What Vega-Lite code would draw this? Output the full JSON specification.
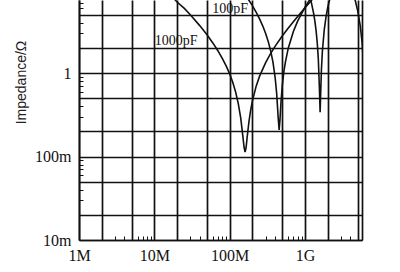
{
  "$schema": "https://vega.github.io/schema/vega-lite/v6.json",
  "width": 283,
  "height": 240,
  "autosize": "none",
  "padding": {"left": 79, "top": 0, "right": 38, "bottom": 32},
  "background": "white",
  "config": {"view": {"stroke": null}},
  "datasets": {
    "curves": [
      {"curve": "1000pF", "f": 15000000, "z": 9.5},
      {"curve": "1000pF", "f": 20000000, "z": 7.1},
      {"curve": "1000pF", "f": 25000000, "z": 5.95},
      {"curve": "1000pF", "f": 30000000, "z": 5.0},
      {"curve": "1000pF", "f": 40000000, "z": 3.7},
      {"curve": "1000pF", "f": 50000000, "z": 2.87},
      {"curve": "1000pF", "f": 60000000, "z": 2.28},
      {"curve": "1000pF", "f": 70000000, "z": 1.84},
      {"curve": "1000pF", "f": 80000000, "z": 1.49},
      {"curve": "1000pF", "f": 90000000, "z": 1.21},
      {"curve": "1000pF", "f": 100000000, "z": 0.977},
      {"curve": "1000pF", "f": 110000000, "z": 0.771},
      {"curve": "1000pF", "f": 120000000, "z": 0.591},
      {"curve": "1000pF", "f": 130000000, "z": 0.431},
      {"curve": "1000pF", "f": 140000000, "z": 0.29},
      {"curve": "1000pF", "f": 150000000, "z": 0.171},
      {"curve": "1000pF", "f": 155000000, "z": 0.13},
      {"curve": "1000pF", "f": 160000000, "z": 0.113},
      {"curve": "1000pF", "f": 165000000, "z": 0.128},
      {"curve": "1000pF", "f": 170000000, "z": 0.166},
      {"curve": "1000pF", "f": 180000000, "z": 0.261},
      {"curve": "1000pF", "f": 190000000, "z": 0.361},
      {"curve": "1000pF", "f": 200000000, "z": 0.461},
      {"curve": "1000pF", "f": 225000000, "z": 0.701},
      {"curve": "1000pF", "f": 250000000, "z": 0.924},
      {"curve": "1000pF", "f": 300000000, "z": 1.334},
      {"curve": "1000pF", "f": 350000000, "z": 1.721},
      {"curve": "1000pF", "f": 400000000, "z": 2.089},
      {"curve": "1000pF", "f": 500000000, "z": 2.791},
      {"curve": "1000pF", "f": 600000000, "z": 3.465},
      {"curve": "1000pF", "f": 700000000, "z": 4.125},
      {"curve": "1000pF", "f": 850000000, "z": 5.098},
      {"curve": "1000pF", "f": 1000000000, "z": 6.058},
      {"curve": "1000pF", "f": 1300000000, "z": 7.96},
      {"curve": "100pF", "f": 150000000, "z": 9.45},
      {"curve": "100pF", "f": 180000000, "z": 7.45},
      {"curve": "100pF", "f": 200000000, "z": 6.41},
      {"curve": "100pF", "f": 225000000, "z": 5.33},
      {"curve": "100pF", "f": 250000000, "z": 4.43},
      {"curve": "100pF", "f": 275000000, "z": 3.655},
      {"curve": "100pF", "f": 300000000, "z": 2.98},
      {"curve": "100pF", "f": 325000000, "z": 2.38},
      {"curve": "100pF", "f": 350000000, "z": 1.84},
      {"curve": "100pF", "f": 375000000, "z": 1.352},
      {"curve": "100pF", "f": 400000000, "z": 0.902},
      {"curve": "100pF", "f": 420000000, "z": 0.571},
      {"curve": "100pF", "f": 440000000, "z": 0.292},
      {"curve": "100pF", "f": 453000000, "z": 0.208},
      {"curve": "100pF", "f": 465000000, "z": 0.276},
      {"curve": "100pF", "f": 480000000, "z": 0.456},
      {"curve": "100pF", "f": 500000000, "z": 0.725},
      {"curve": "100pF", "f": 525000000, "z": 1.06},
      {"curve": "100pF", "f": 550000000, "z": 1.371},
      {"curve": "100pF", "f": 600000000, "z": 2.0},
      {"curve": "100pF", "f": 700000000, "z": 3.153},
      {"curve": "100pF", "f": 800000000, "z": 4.214},
      {"curve": "100pF", "f": 1000000000, "z": 6.162},
      {"curve": "100pF", "f": 1200000000, "z": 7.98},
      {"curve": "10pF", "f": 1000000000, "z": 12.4},
      {"curve": "10pF", "f": 1100000000, "z": 9.71},
      {"curve": "10pF", "f": 1200000000, "z": 7.33},
      {"curve": "10pF", "f": 1300000000, "z": 5.19},
      {"curve": "10pF", "f": 1350000000, "z": 4.19},
      {"curve": "10pF", "f": 1400000000, "z": 3.24},
      {"curve": "10pF", "f": 1450000000, "z": 2.34},
      {"curve": "10pF", "f": 1500000000, "z": 1.48},
      {"curve": "10pF", "f": 1550000000, "z": 0.671},
      {"curve": "10pF", "f": 1585000000, "z": 0.34},
      {"curve": "10pF", "f": 1620000000, "z": 0.66},
      {"curve": "10pF", "f": 1650000000, "z": 1.1},
      {"curve": "10pF", "f": 1700000000, "z": 1.85},
      {"curve": "10pF", "f": 1800000000, "z": 3.32},
      {"curve": "10pF", "f": 1900000000, "z": 4.74},
      {"curve": "10pF", "f": 2000000000, "z": 6.1},
      {"curve": "10pF", "f": 2200000000, "z": 8.68},
      {"curve": "1pF", "f": 4400000000, "z": 8.74},
      {"curve": "1pF", "f": 4630000000, "z": 7.45},
      {"curve": "1pF", "f": 5000000000, "z": 5.55},
      {"curve": "1pF", "f": 5400000000, "z": 3.69},
      {"curve": "1pF", "f": 5730000000, "z": 2.28},
      {"curve": "1pF", "f": 6000000000, "z": 1.17}
    ],
    "labels": [
      {"text": "1000pF", "f": 19400000, "z": 2.42},
      {"text": "100pF", "f": 101000000, "z": 5.85}
    ]
  },
  "encoding": {
    "x": {
      "field": "f",
      "type": "quantitative",
      "scale": {"type": "log", "domain": [1000000, 5700000000], "nice": false},
      "axis": {
        "title": null,
        "values": [1000000, 2000000, 3000000, 4000000, 5000000, 6000000, 7000000, 8000000, 9000000,
                   10000000, 20000000, 30000000, 40000000, 50000000, 60000000, 70000000, 80000000, 90000000,
                   100000000, 200000000, 300000000, 400000000, 500000000, 600000000, 700000000, 800000000, 900000000,
                   1000000000, 2000000000, 3000000000, 4000000000, 5000000000, 5700000000],
        "labelExpr": "datum.value == 1000000 ? '1M' : datum.value == 10000000 ? '10M' : datum.value == 100000000 ? '100M' : datum.value == 1000000000 ? '1G' : ''",
        "labelOverlap": false,
        "labelFlush": false,
        "labelFont": "Liberation Serif",
        "labelFontSize": 16,
        "labelColor": "#111",
        "labelPadding": 11,
        "domain": true,
        "domainColor": "#111",
        "domainWidth": 1.7,
        "grid": true,
        "gridColor": "#111",
        "gridWidth": 1.7,
        "gridOpacity": {"condition": {"test": "datum.value == 1000000 || datum.value == 2000000 || datum.value == 5000000 || datum.value == 10000000 || datum.value == 20000000 || datum.value == 50000000 || datum.value == 100000000 || datum.value == 200000000 || datum.value == 500000000 || datum.value == 1000000000 || datum.value == 2000000000 || datum.value == 5000000000 || datum.value == 5700000000", "value": 1}, "value": 0},
        "ticks": true,
        "tickSize": -4,
        "tickColor": "#111",
        "tickWidth": 1,
        "tickOpacity": {"condition": {"test": "datum.value == 1000000 || datum.value == 2000000 || datum.value == 5000000 || datum.value == 10000000 || datum.value == 20000000 || datum.value == 50000000 || datum.value == 100000000 || datum.value == 200000000 || datum.value == 500000000 || datum.value == 1000000000 || datum.value == 2000000000 || datum.value == 5000000000 || datum.value == 5700000000", "value": 0}, "value": 1}
      }
    },
    "y": {
      "field": "z",
      "type": "quantitative",
      "scale": {"type": "log", "domain": [0.01, 7.5], "nice": false},
      "axis": {
        "title": "Impedance/Ω",
        "titleFont": "Liberation Sans",
        "titleFontSize": 14,
        "titleFontWeight": "normal",
        "titleColor": "#222",
        "titleX": -58,
        "titleY": 82,
        "titleAngle": 270,
        "titleAlign": "center",
        "titleBaseline": "middle",
        "values": [0.01, 0.02, 0.03, 0.04, 0.05, 0.06, 0.07, 0.08, 0.09,
                   0.1, 0.2, 0.3, 0.4, 0.5, 0.6, 0.7, 0.8, 0.9,
                   1, 2, 3, 4, 5, 6, 7],
        "labelExpr": "datum.value == 0.01 ? '10m' : datum.value == 0.1 ? '100m' : datum.value == 1 ? '1' : ''",
        "labelOverlap": false,
        "labelFlush": false,
        "labelFont": "Liberation Serif",
        "labelFontSize": 16,
        "labelColor": "#111",
        "labelPadding": 12,
        "domain": true,
        "domainColor": "#111",
        "domainWidth": 1.7,
        "grid": true,
        "gridColor": "#111",
        "gridWidth": 1.7,
        "gridOpacity": {"condition": {"test": "datum.value == 0.01 || datum.value == 0.02 || datum.value == 0.05 || datum.value == 0.1 || datum.value == 0.2 || datum.value == 0.5 || datum.value == 1 || datum.value == 2 || datum.value == 5", "value": 1}, "value": 0},
        "ticks": true,
        "tickSize": -4,
        "tickColor": "#111",
        "tickWidth": 1,
        "tickOpacity": {"condition": {"test": "datum.value == 0.01 || datum.value == 0.02 || datum.value == 0.05 || datum.value == 0.1 || datum.value == 0.2 || datum.value == 0.5 || datum.value == 1 || datum.value == 2 || datum.value == 5", "value": 0}, "value": 1}
      }
    }
  },
  "layer": [
    {
      "data": {"name": "curves"},
      "mark": {"type": "line", "color": "#111", "strokeWidth": 1.6, "clip": true},
      "encoding": {"detail": {"field": "curve"}, "order": {"field": "f", "type": "quantitative"}}
    },
    {
      "data": {"name": "labels"},
      "mark": {"type": "text", "font": "Liberation Serif", "fontSize": 14, "color": "#111", "align": "center", "baseline": "middle"},
      "encoding": {"text": {"field": "text"}}
    }
  ]
}
